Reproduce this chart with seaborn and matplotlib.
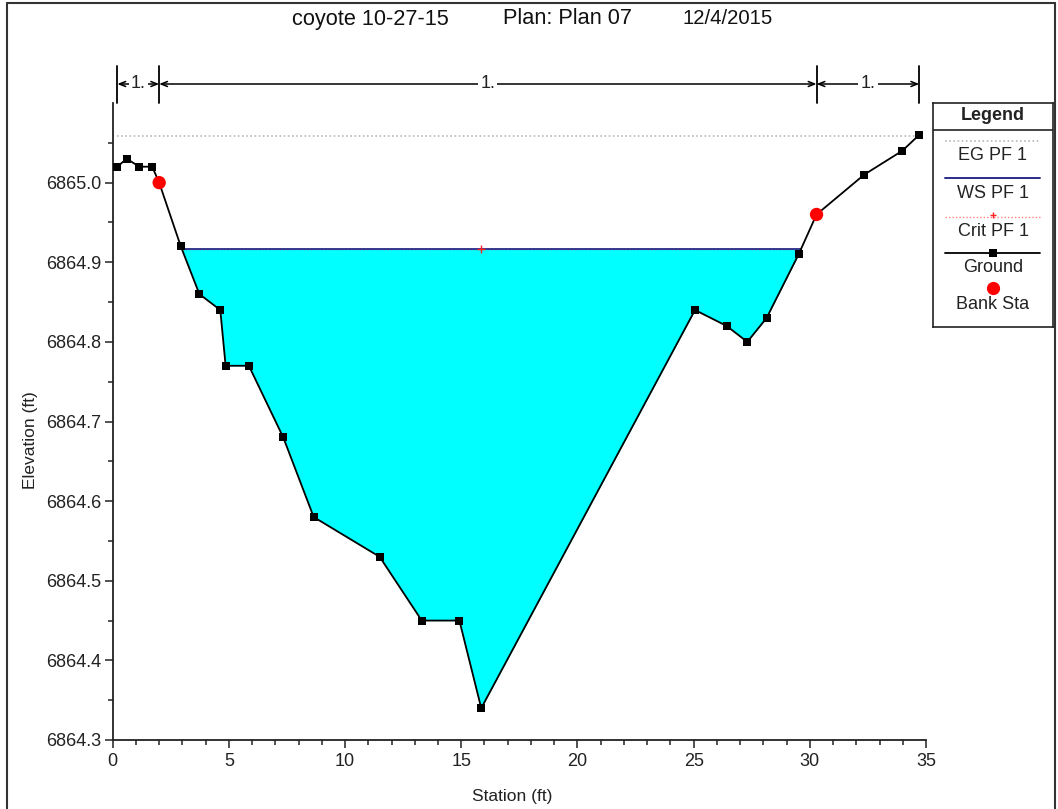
import numpy as np
import pandas as pd
import matplotlib
matplotlib.use("Agg")
import matplotlib.pyplot as plt
import matplotlib.transforms as mtransforms
from matplotlib.lines import Line2D
from matplotlib.ticker import MultipleLocator, FixedLocator, FormatStrFormatter
import seaborn as sns

# ---------------- data ----------------
title_parts = ["coyote 10-27-15", "Plan: Plan 07", "12/4/2015"]
x_label = "Station (ft)"
y_label = "Elevation (ft)"

ground_sta = [0.2, 0.6, 1.15, 1.7, 2.0, 2.93, 3.73, 4.63, 4.86, 5.86, 7.34, 8.65,
              11.49, 13.3, 14.92, 15.86, 25.06, 26.42, 27.31, 28.14, 29.52,
              30.29, 32.34, 33.98, 34.71]
ground_elev = [6865.02, 6865.03, 6865.02, 6865.02, 6865.00, 6864.92, 6864.86,
               6864.84, 6864.77, 6864.77, 6864.68, 6864.58, 6864.53, 6864.45,
               6864.45, 6864.34, 6864.84, 6864.82, 6864.80, 6864.83, 6864.91,
               6864.96, 6865.01, 6865.04, 6865.06]

bank_sta = [2.0, 30.29]
bank_elev = [6865.00, 6864.96]

eg_elev = 6865.058
ws_elev = 6864.917
crit_elev = 6864.917
crit_sta = 15.86

n_breaks = [0.2, 2.0, 30.29, 34.71]
n_labels = ["1.", "1.", "1."]

legend_labels = ["EG PF 1", "WS PF 1", "Crit PF 1", "Ground", "Bank Sta"]

x_lim = (0, 35)
y_lim = (6864.3, 6865.1)
y_major = [6864.3, 6864.4, 6864.5, 6864.6, 6864.7, 6864.8, 6864.9, 6865.0]

# ---------------- style ----------------
sns.set_style("ticks")
plt.rcParams['font.family'] = ['Liberation Sans', 'DejaVu Sans']
TXT = "#222222"

W, H = 1058, 809
fig = plt.figure(figsize=(W / 100, H / 100), dpi=100)
fig.patch.set_facecolor("white")

ax_l, ax_r, ax_t, ax_b = 112.7, 926.0, 103.0, 740.0
ax = fig.add_axes([ax_l / W, 1 - ax_b / H, (ax_r - ax_l) / W, (ax_b - ax_t) / H])
ax.set_facecolor("white")

df = pd.DataFrame({"Station": ground_sta, "Elevation": ground_elev})
banks = pd.DataFrame({"Station": bank_sta, "Elevation": bank_elev})

gx = np.asarray(ground_sta, dtype=float)
gy = np.asarray(ground_elev, dtype=float)


def crossings(x, y, level):
    pts = []
    for i in range(len(x) - 1):
        a, b = y[i] - level, y[i + 1] - level
        if a == 0:
            pts.append(x[i])
        elif a * b < 0:
            pts.append(x[i] + (x[i + 1] - x[i]) * a / (a - b))
    return pts


cr = crossings(gx, gy, ws_elev)
ws_x0, ws_x1 = cr[0], cr[-1]

# water fill
ax.fill_between(gx, gy, ws_elev, where=gy <= ws_elev + 1e-9, interpolate=True,
                color="#00ffff", linewidth=0, zorder=1)

# EG line
ax.plot([gx[0], gx[-1]], [eg_elev, eg_elev], color="#b8b8b8", lw=1.2,
        ls=(0, (1, 1.5)), zorder=2)
# Crit line (under WS)
ax.plot([ws_x0, ws_x1], [crit_elev, crit_elev], color="#ff5050", lw=1.0,
        ls=(0, (1, 1.5)), zorder=2)
# WS line
ax.plot([ws_x0, ws_x1], [ws_elev, ws_elev], color="#2a2a8a", lw=1.3, zorder=3)
ax.plot([crit_sta], [crit_elev], marker="+", color="#ff2020", ms=6, mew=1.0,
        zorder=4)

# Ground
sns.lineplot(data=df, x="Station", y="Elevation", ax=ax, color="black",
             lw=1.3, marker="s", markersize=5.6, markeredgewidth=0,
             markerfacecolor="black", sort=False, zorder=5, legend=False)
# Bank stations
sns.scatterplot(data=banks, x="Station", y="Elevation", ax=ax, color="#ff0000",
                s=92, edgecolor="none", zorder=6, legend=False)

ax.set_xlim(*x_lim)
ax.set_ylim(*y_lim)

for s in ["top", "right"]:
    ax.spines[s].set_visible(False)
for s in ["left", "bottom"]:
    ax.spines[s].set_linewidth(1.3)
    ax.spines[s].set_color(TXT)

ax.xaxis.set_major_locator(MultipleLocator(5))
ax.xaxis.set_minor_locator(MultipleLocator(1))
ax.yaxis.set_major_locator(FixedLocator(y_major))
ax.yaxis.set_minor_locator(FixedLocator([v + 0.05 for v in y_major]))
ax.yaxis.set_major_formatter(FormatStrFormatter("%.1f"))
ax.xaxis.set_major_formatter(FormatStrFormatter("%d"))
ax.tick_params(axis="both", which="major", length=6, width=1.1, direction="out",
               labelsize=13, labelcolor=TXT, color=TXT, pad=2)
ax.tick_params(axis="both", which="minor", length=3.9, width=1.1, direction="out",
               color=TXT)
ax.tick_params(axis="x", which="major", pad=3)

ax.set_xlabel(x_label, fontsize=12.5, color=TXT)
ax.set_ylabel(y_label, fontsize=12.5, color=TXT)
ax.xaxis.set_label_coords((512 - ax_l) / (ax_r - ax_l), (ax_b - 789) / (ax_b - ax_t))
ax.yaxis.set_label_coords((38 - ax_l) / (ax_r - ax_l), (ax_b - 440) / (ax_b - ax_t))

# Manning's n annotation above the plot
trans = mtransforms.blended_transform_factory(ax.transData, ax.transAxes)
bar_lo = 1.0
bar_hi = (ax_b - 66) / (ax_b - ax_t)
arr_y = (ax_b - 84) / (ax_b - ax_t)
for xb in n_breaks:
    ax.plot([xb, xb], [bar_lo, bar_hi], color="black", lw=1.3, transform=trans,
            clip_on=False)
for i, lab in enumerate(n_labels):
    x0, x1 = n_breaks[i], n_breaks[i + 1]
    ax.annotate("", xy=(x0, arr_y), xytext=(x1, arr_y), xycoords=trans,
                textcoords=trans, annotation_clip=False,
                arrowprops=dict(arrowstyle="<->,head_length=0.45,head_width=0.18",
                                lw=1.1, color="black", shrinkA=0, shrinkB=0))
    ax.text((x0 + x1) / 2, arr_y, lab, transform=trans, ha="center", va="center",
            fontsize=13, color=TXT,
            bbox=dict(facecolor="white", edgecolor="none", pad=1.5))

# Title (three pieces, as laid out in the reference window)
title_x = [292, 503, 682]
title_fs = [15.7, 15.7, 14.6]
for tx, part, fs in zip(title_x, title_parts, title_fs):
    fig.text(tx / W, 1 - 19 / H, part, ha="left", va="center", fontsize=fs,
             color="#111111")

# Outer frame
fig.add_artist(Line2D([7 / W, 7 / W], [0, 1 - 3 / H], color="#333333", lw=1.5))
fig.add_artist(Line2D([7 / W, 1055 / W], [1 - 3 / H, 1 - 3 / H], color="#333333", lw=1.5))
fig.add_artist(Line2D([1055 / W, 1055 / W], [0, 1 - 3 / H], color="#333333", lw=1.5))

# Custom legend box
lg_l, lg_r, lg_t, lg_b = 933, 1053, 103, 327
lax = fig.add_axes([lg_l / W, 1 - lg_b / H, (lg_r - lg_l) / W, (lg_b - lg_t) / H])
lax.set_xlim(0, lg_r - lg_l)
lax.set_ylim(lg_b - lg_t, 0)
lax.set_xticks([])
lax.set_yticks([])
for s in lax.spines.values():
    s.set_linewidth(1.2)
    s.set_color(TXT)
lax.set_facecolor("white")
lw_ = lg_r - lg_l
LFS = 13
lax.text(lw_ / 2, 13, "Legend", ha="center", va="center", fontsize=13,
         fontweight="bold", color=TXT)
lax.plot([0, lw_], [27, 27], color=TXT, lw=1.2)
sx0, sx1 = 12, 107
# EG
lax.plot([sx0, sx1], [38, 38], color="#b8b8b8", lw=1.2, ls=(0, (1, 1.5)))
lax.text(lw_ / 2, 52, legend_labels[0], ha="center", va="center", fontsize=LFS,
         color=TXT)
# WS
lax.plot([sx0, sx1], [75, 75], color="#2a2a8a", lw=1.4)
lax.text(lw_ / 2, 91, legend_labels[1], ha="center", va="center", fontsize=LFS,
         color=TXT)
# Crit
lax.plot([sx0, sx1], [114, 114], color="#ff8080", lw=1.0, ls=(0, (1, 1.5)))
lax.plot([lw_ / 2], [112], marker="+", color="#ff2020", ms=5, mew=1.0)
lax.text(lw_ / 2, 128, legend_labels[2], ha="center", va="center", fontsize=LFS,
         color=TXT)
# Ground
lax.plot([sx0, sx1], [150, 150], color="black", lw=1.3)
lax.plot([lw_ / 2], [150], marker="s", color="black", ms=5.6, mew=0)
lax.text(lw_ / 2, 165, legend_labels[3], ha="center", va="center", fontsize=LFS,
         color=TXT)
# Bank
lax.plot([lw_ / 2], [185], marker="o", color="#ff0000", ms=9.5, mew=0)
lax.text(lw_ / 2, 202, legend_labels[4], ha="center", va="center", fontsize=LFS,
         color=TXT)

fig.savefig("out.png", dpi=100, facecolor="white")
